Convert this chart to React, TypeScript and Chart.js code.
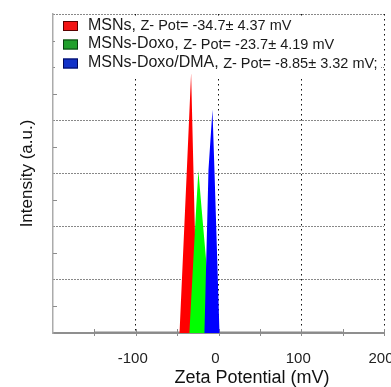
import React, { useEffect, useRef } from 'react';
import { Chart, registerables } from 'chart.js';

Chart.register(...registerables);

// ---- data ----
const seriesLabels = ['MSNs', 'MSNs-Doxo', 'MSNs-Doxo/DMA'];
const zetaTexts = ['Z- Pot= -34.7\u00b1 4.37 mV', 'Z- Pot= -23.7\u00b1 4.19 mV', 'Z- Pot= -8.85\u00b1 3.32 mV;'];

const msnsX = [-150, -47.1, -38.8, -33.1, -30.0, -25.5, 150];
const msnsY = [0, 0, 2.88, 4.89, 2.88, 0, 0];

const doxoX = [-150, -35.2, -27.1, -24.3, -20.3, -7.3, 150];
const doxoY = [0, 0, 2.32, 3.05, 2.32, 0, 0];

const dmaX = [-150, -17.0, -12.1, -7.3, -4.9, 1.2, 150];
const dmaY = [0, 0, 3.07, 4.2, 3.07, 0, 0];

const baselineX = [-150, 150];
const baselineY = [0, 0];

const xTickLabels = [-100, 0, 100, 200];
const xMin = -200;
const xMax = 200;
const yMin = 0;
const yMax = 6;

// ---- styles ----
const fillColors = ['#ff0000', '#00ff00', '#0000ff'];
const legendFill = ['#f21414', '#21a02c', '#1232c8'];
const legendBorder = ['#5a0000', '#0a4010', '#00085a'];
const FONT = '"Liberation Sans", Arial, sans-serif';

const toPoints = (xs: number[], ys: number[]) => xs.map((x, i) => ({ x, y: ys[i] }));

const framePlugin = {
  id: 'frame',
  beforeDatasetsDraw(chart: any) {
    const { ctx, chartArea, scales } = chart;
    const xs = scales.x;
    const ys = scales.y;
    ctx.save();
    // inner minor ticks on y axis
    ctx.strokeStyle = '#8c8c8c';
    ctx.lineWidth = 1;
    for (let v = 0.5; v < yMax; v += 1) {
      const py = Math.round(ys.getPixelForValue(v)) + 0.5;
      ctx.beginPath();
      ctx.moveTo(chartArea.left, py);
      ctx.lineTo(chartArea.left + 4, py);
      ctx.stroke();
    }
    // ticks crossing x axis
    for (let v = -150; v <= xMax; v += 50) {
      const px = Math.round(xs.getPixelForValue(v)) + 0.5;
      ctx.beginPath();
      ctx.moveTo(px, chartArea.bottom - 4);
      ctx.lineTo(px, chartArea.bottom + 3);
      ctx.stroke();
    }
    // legend box
    const lx = chartArea.left + 2;
    const ly = chartArea.top + 2;
    ctx.fillStyle = '#ffffff';
    ctx.fillRect(lx, ly, chartArea.right - chartArea.left - 5, 60);
    const rows = [chartArea.top + 11.5, chartArea.top + 30, chartArea.top + 49];
    seriesLabels.forEach((lab, i) => {
      const cy = rows[i];
      ctx.fillStyle = legendFill[i];
      ctx.fillRect(lx + 8, cy - 4.5, 15, 10);
      ctx.strokeStyle = legendBorder[i];
      ctx.lineWidth = 1;
      ctx.strokeRect(lx + 8.5, cy - 4, 14, 9);
      ctx.fillStyle = '#1a1a1a';
      ctx.textBaseline = 'middle';
      ctx.textAlign = 'left';
      ctx.font = `16px ${FONT}`;
      const head = lab + ', ';
      ctx.fillText(head, lx + 33, cy);
      const w = ctx.measureText(head).width;
      ctx.font = `14.5px ${FONT}`;
      ctx.fillText(zetaTexts[i], lx + 33 + w, cy + 0.5);
    });
    ctx.restore();
  },
  afterDraw(chart: any) {
    const { ctx, chartArea } = chart;
    ctx.save();
    ctx.fillStyle = '#111111';
    ctx.font = `18px ${FONT}`;
    ctx.textAlign = 'center';
    ctx.textBaseline = 'middle';
    ctx.fillText('Zeta Potential (mV)', chartArea.left + 199, chartArea.bottom + 45);
    ctx.restore();
  },
};

export default function App() {
  const ref = useRef<HTMLCanvasElement | null>(null);

  useEffect(() => {
    if (!ref.current) return;
    const chart = new Chart(ref.current, {
      type: 'line',
      data: {
        datasets: [
          {
            label: seriesLabels[0],
            data: toPoints(msnsX, msnsY),
            backgroundColor: fillColors[0],
            borderColor: fillColors[0],
            borderWidth: 0,
            fill: 'origin',
            pointRadius: 0,
            tension: 0,
            order: 3,
          },
          {
            label: seriesLabels[1],
            data: toPoints(doxoX, doxoY),
            backgroundColor: fillColors[1],
            borderColor: fillColors[1],
            borderWidth: 0,
            fill: 'origin',
            pointRadius: 0,
            tension: 0,
            order: 2,
          },
          {
            label: seriesLabels[2],
            data: toPoints(dmaX, dmaY),
            backgroundColor: fillColors[2],
            borderColor: fillColors[2],
            borderWidth: 0,
            fill: 'origin',
            pointRadius: 0,
            tension: 0,
            order: 1,
          },
          {
            label: 'baseline',
            data: toPoints(baselineX, baselineY),
            borderColor: '#8a8a8a',
            borderWidth: 3,
            fill: false,
            pointRadius: 0,
            order: 4,
          },
        ],
      },
      options: {
        animation: false,
        responsive: false,
        layout: { padding: { top: 14, right: 7, left: 0, bottom: 0 } },
        plugins: { legend: { display: false }, tooltip: { enabled: false } },
        scales: {
          x: {
            type: 'linear',
            min: xMin,
            max: xMax,
            afterFit: (s: any) => {
              s.height = 54;
              s.paddingLeft = 0;
              s.paddingRight = 0;
            },
            ticks: {
              stepSize: 50,
              autoSkip: false,
              maxRotation: 0,
              padding: 17,
              labelOffset: -3,
              color: '#222222',
              font: { family: FONT, size: 15 },
              callback: (v: any) => (xTickLabels.includes(Number(v)) ? String(v) : ''),
            },
            grid: {
              drawTicks: false,
              lineWidth: 1,
              color: (c: any) => {
                const v = c.tick ? c.tick.value : 0;
                return v % 100 === 0 && v !== xMin ? '#111111' : 'rgba(0,0,0,0)';
              },
            },
            border: { display: true, color: '#8f8f8f', width: 2, dash: [1.5, 3.5] },
          },
          y: {
            type: 'linear',
            min: yMin,
            max: yMax,
            afterFit: (s: any) => {
              s.width = 53;
            },
            ticks: { display: false, stepSize: 1 },
            grid: {
              drawTicks: false,
              lineWidth: 1,
              color: (c: any) => {
                const v = c.tick ? c.tick.value : 0;
                return v !== yMin ? '#111111' : 'rgba(0,0,0,0)';
              },
            },
            border: { display: true, color: '#ababab', width: 1.5, dash: [1, 2] },
            title: {
              display: true,
              text: 'Intensity (a.u.)',
              color: '#111111',
              font: { family: FONT, size: 17 },
              padding: { top: 17, bottom: 0 },
            },
          },
        },
      },
      plugins: [framePlugin],
    } as any);
    return () => chart.destroy();
  }, []);

  return (
    <div style={{ position: 'absolute', left: 0, top: 0, width: 391, height: 387, background: '#fff' }}>
      <canvas ref={ref} width={391} height={387} style={{ display: 'block' }} />
    </div>
  );
}
